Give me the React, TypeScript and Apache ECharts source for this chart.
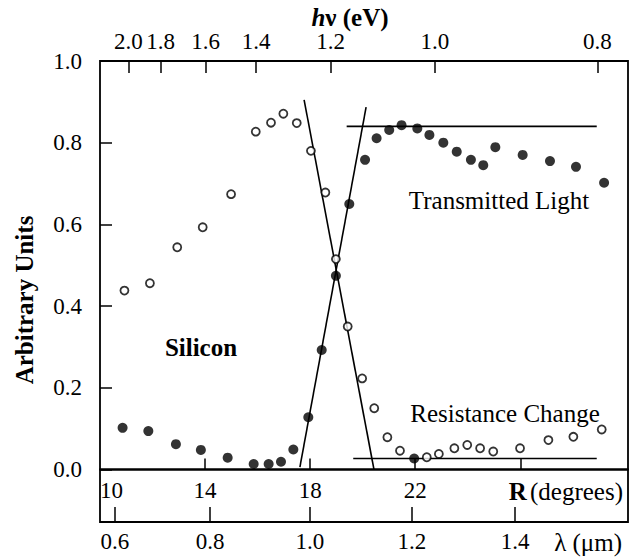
import React, { useEffect, useRef } from "react";
import * as echarts from "echarts";

// R (degrees) axis ticks / labels
const rTickValues = [14, 18, 22, 26];
const rLabelValues = [10, 14, 18, 22];
// top axis: photon energy labels and where they sit on the R scale
const hvLabels = [2.0, 1.8, 1.6, 1.4, 1.2, 1.0, 0.8];
const hvTickPos = [11.08, 12.31, 14.02, 15.94, 18.78, 22.75, 28.93];
// bottom axis: wavelength labels and where they sit on the R scale
const lambdaLabels = [0.6, 0.8, 1.0, 1.2, 1.4];
const lambdaTickPos = [10.57, 14.19, 17.99, 21.87, 25.8];

// Resistance change (open circles)
const resistanceR = [10.93, 11.9, 12.94, 13.91, 14.99, 15.93, 16.51, 16.98, 17.49, 18.03, 18.58, 18.98, 19.43, 19.98, 20.44, 20.94, 21.42, 22.44, 22.9, 23.49, 23.98, 24.47, 24.97, 25.99, 27.07, 28.02, 29.1];
const resistanceV = [0.438, 0.456, 0.544, 0.593, 0.674, 0.827, 0.849, 0.871, 0.848, 0.78, 0.678, 0.515, 0.35, 0.223, 0.15, 0.079, 0.046, 0.03, 0.038, 0.052, 0.06, 0.052, 0.044, 0.052, 0.072, 0.08, 0.098];

// Transmitted light (filled circles)
const transmittedR = [10.86, 11.84, 12.89, 13.84, 14.86, 15.85, 16.42, 16.89, 17.36, 17.93, 18.44, 18.98, 19.49, 20.09, 20.53, 21.01, 21.48, 22.08, 22.54, 23.07, 23.58, 24.12, 24.59, 25.05, 26.09, 27.13, 28.12, 29.19, 21.96];
const transmittedV = [0.102, 0.094, 0.062, 0.048, 0.029, 0.0135, 0.0135, 0.019, 0.049, 0.128, 0.2925, 0.474, 0.65, 0.758, 0.811, 0.831, 0.843, 0.835, 0.819, 0.8, 0.778, 0.758, 0.745, 0.789, 0.77, 0.755, 0.741, 0.702, 0.027];

// guide lines drawn in the figure
const lineFallR = [17.77, 20.43];
const lineFallV = [0.905, 0.0];
const lineRiseR = [17.61, 20.13];
const lineRiseV = [0.006, 0.887];
const lineTopR = [19.39, 28.91];
const lineTopV = [0.84, 0.84];
const lineBottomR = [19.64, 28.91];
const lineBottomV = [0.027, 0.027];

const FONT = "'Liberation Serif', 'DejaVu Serif', serif";

function zip(xs: number[], ys: number[]) {
  return xs.map((x, i) => [x, ys[i]]);
}

function nearestLabel(v: number, pos: number[], labels: number[]) {
  let best = 0;
  for (let i = 1; i < pos.length; i++) {
    if (Math.abs(pos[i] - v) < Math.abs(pos[best] - v)) best = i;
  }
  return Math.abs(pos[best] - v) < 0.05 ? labels[best].toFixed(1) : "";
}

export default function App() {
  const ref = useRef<HTMLDivElement>(null);

  useEffect(() => {
    if (!ref.current) return;
    const chart = echarts.init(ref.current, undefined, { renderer: "svg" });
    const lineStyle = { color: "#000", width: 1.6 };
    const tickStyle = { color: "#000", width: 1.5 };
    const labelBase = { color: "#000", fontFamily: FONT, fontSize: 23 };

    const guide = (name: string, xs: number[], ys: number[]) => ({
      type: "line",
      name,
      xAxisIndex: 0,
      yAxisIndex: 0,
      data: zip(xs, ys),
      symbol: "none",
      lineStyle,
      z: 2,
    });

    chart.setOption({
      animation: false,
      backgroundColor: "#fff",
      grid: [
        { left: 100, right: 9, top: 61, height: 408.5, show: true, borderColor: "#000", borderWidth: 1.8, backgroundColor: "transparent" },
        { left: 100, right: 9, top: 469.5, height: 52.5, show: true, borderColor: "#000", borderWidth: 1.8, backgroundColor: "transparent" },
      ],
      xAxis: [
        {
          type: "value",
          gridIndex: 0,
          position: "bottom",
          min: 10,
          max: 30.1,
          axisLine: { show: false },
          splitLine: { show: false },
          axisTick: { show: true, inside: true, length: 11, lineStyle: tickStyle, customValues: rTickValues },
          axisLabel: {
            ...labelBase,
            margin: 9,
            customValues: rLabelValues,
            alignMinLabel: "left",
            formatter: (v: number) => String(Math.round(v)),
          },
        },
        {
          type: "value",
          gridIndex: 0,
          position: "top",
          min: 10,
          max: 30.1,
          axisLine: { show: false },
          splitLine: { show: false },
          axisTick: { show: true, inside: true, length: 12, lineStyle: tickStyle, customValues: hvTickPos },
          axisLabel: {
            ...labelBase,
            margin: 8,
            customValues: hvTickPos,
            formatter: (v: number) => nearestLabel(v, hvTickPos, hvLabels),
          },
        },
        {
          type: "value",
          gridIndex: 1,
          position: "bottom",
          min: 10,
          max: 30.1,
          axisLine: { show: false },
          splitLine: { show: false },
          axisTick: { show: true, inside: true, length: 15, lineStyle: tickStyle, customValues: lambdaTickPos },
          axisLabel: {
            ...labelBase,
            margin: 8,
            customValues: lambdaTickPos,
            formatter: (v: number) => nearestLabel(v, lambdaTickPos, lambdaLabels),
          },
        },
      ],
      yAxis: [
        {
          type: "value",
          gridIndex: 0,
          min: 0,
          max: 1,
          interval: 0.2,
          axisLine: { show: false },
          splitLine: { show: false },
          axisTick: { show: true, inside: true, length: 12, lineStyle: tickStyle },
          axisLabel: { ...labelBase, margin: 18, formatter: (v: number) => v.toFixed(1) },
        },
        {
          type: "value",
          gridIndex: 1,
          min: 0,
          max: 1,
          show: false,
          splitLine: { show: false },
        },
      ],
      series: [
        guide("Fall", lineFallR, lineFallV),
        guide("Rise", lineRiseR, lineRiseV),
        guide("Top", lineTopR, lineTopV),
        guide("Bottom", lineBottomR, lineBottomV),
        {
          type: "scatter",
          name: "Resistance Change",
          xAxisIndex: 0,
          yAxisIndex: 0,
          data: zip(resistanceR, resistanceV),
          symbol: "circle",
          symbolSize: 8,
          itemStyle: { color: "#fff", borderColor: "#000", borderWidth: 1.8 },
          z: 3,
        },
        {
          type: "scatter",
          name: "Transmitted Light",
          xAxisIndex: 0,
          yAxisIndex: 0,
          data: zip(transmittedR, transmittedV),
          symbol: "circle",
          symbolSize: 10,
          itemStyle: { color: "#000" },
          z: 3,
        },
      ],
      graphic: [
        {
          type: "text",
          x: 350,
          y: 17,
          style: {
            text: "{h|h}{b|ν (eV)}",
            textAlign: "center",
            textVerticalAlign: "middle",
            rich: {
              h: { fontFamily: FONT, fontSize: 25, fontWeight: "bold", fontStyle: "italic", fill: "#000" },
              b: { fontFamily: FONT, fontSize: 25, fontWeight: "bold", fill: "#000" },
            },
          },
        },
        {
          type: "text",
          x: 24,
          y: 300,
          rotation: Math.PI / 2,
          style: {
            text: "Arbitrary Units",
            fontFamily: FONT,
            fontSize: 25,
            fontWeight: "bold",
            fill: "#000",
            textAlign: "center",
            textVerticalAlign: "middle",
          },
        },
        {
          type: "text",
          x: 201,
          y: 347,
          style: { text: "Silicon", fontFamily: FONT, fontSize: 25, fontWeight: "bold", fill: "#000", textAlign: "center", textVerticalAlign: "middle" },
        },
        {
          type: "text",
          x: 499,
          y: 200,
          style: { text: "Transmitted Light", fontFamily: FONT, fontSize: 25, fill: "#000", textAlign: "center", textVerticalAlign: "middle" },
        },
        {
          type: "text",
          x: 505,
          y: 413,
          style: { text: "Resistance Change", fontFamily: FONT, fontSize: 25, fill: "#000", textAlign: "center", textVerticalAlign: "middle" },
        },
        {
          type: "text",
          x: 623,
          y: 491,
          style: {
            text: "{b|R} {n|(degrees)}",
            textAlign: "right",
            textVerticalAlign: "middle",
            rich: {
              b: { fontFamily: FONT, fontSize: 25, fontWeight: "bold", fill: "#000" },
              n: { fontFamily: FONT, fontSize: 25, fill: "#000" },
            },
          },
        },
        {
          type: "text",
          x: 622,
          y: 542,
          style: { text: "λ (μm)", fontFamily: FONT, fontSize: 25, fill: "#000", textAlign: "right", textVerticalAlign: "middle" },
        },
      ],
    });
    return () => chart.dispose();
  }, []);

  return <div ref={ref} style={{ position: "fixed", left: 0, top: 0, width: 637, height: 560 }} />;
}
